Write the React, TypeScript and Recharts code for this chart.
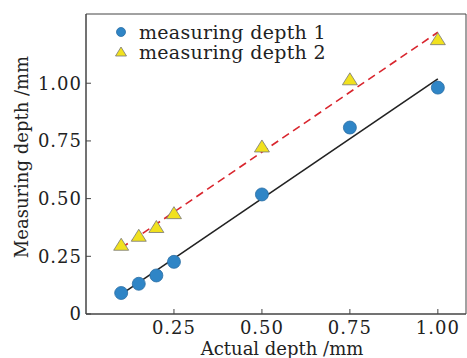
import { ComposedChart, Line, Scatter, XAxis, YAxis, ReferenceArea } from "recharts";

// actual depth (mm) and the two measured series
const actualDepth = [0.1, 0.15, 0.2, 0.25, 0.5, 0.75, 1.0];
const depth1 = [0.091, 0.131, 0.167, 0.226, 0.518, 0.808, 0.981];
const depth2 = [0.297, 0.336, 0.374, 0.434, 0.723, 1.014, 1.188];

// fitted lines, end points
const fitX = [0.1, 1.0];
const fit1 = [0.085, 1.019];
const fit2 = [0.286, 1.221];

const xTicks = [0.25, 0.5, 0.75, 1.0];
const yTicks = [0, 0.25, 0.5, 0.75, 1.0];

const font = "'DejaVu Serif', serif";
const blue = "#2f85c6";
const yellow = "#f1e11e";

const pts1 = actualDepth.map((x, i) => ({ x, y: depth1[i] }));
const pts2 = actualDepth.map((x, i) => ({ x, y: depth2[i] }));
const line1 = fitX.map((x, i) => ({ x, y: fit1[i] }));
const line2 = fitX.map((x, i) => ({ x, y: fit2[i] }));

function Dot(p: any) {
  return <circle cx={p.cx} cy={p.cy} r={6.5} fill={blue} stroke="#2a6da3" strokeWidth={0.8} />;
}

function Tri(p: any) {
  const { cx, cy } = p;
  const w = 7.5;
  const h = 12;
  return (
    <polygon
      points={`${cx},${cy - h * 0.6} ${cx + w},${cy + h * 0.4} ${cx - w},${cy + h * 0.4}`}
      fill={yellow}
      stroke="#777"
      strokeWidth={0.8}
    />
  );
}

const tickStyle = { fill: "#222", fontSize: 18, fontFamily: font, letterSpacing: 1 };

export default function App() {
  return (
    <div style={{ position: "fixed", left: 0, top: 0, width: 467, height: 358, background: "#fff" }}>
      <ComposedChart width={467} height={358} margin={{ top: 14, right: 1, bottom: 0, left: 0 }}>
        <XAxis
          dataKey="x"
          type="number"
          domain={[0, 1.08]}
          ticks={xTicks}
          tickFormatter={(v: number) => v.toFixed(2)}
          height={44}
          tickSize={-5}
          tickMargin={12}
          stroke="#444"
          tick={tickStyle}
          allowDataOverflow
          label={{ value: "Actual depth /mm", position: "insideBottom", offset: 3, dx: 6, style: { fill: "#222", fontSize: 18, fontFamily: font } }}
        />
        <YAxis
          dataKey="y"
          type="number"
          domain={[0, 1.3]}
          ticks={yTicks}
          tickFormatter={(v: number) => (v === 0 ? "0" : v.toFixed(2))}
          width={86}
          tickSize={-5}
          tickMargin={9}
          stroke="#444"
          tick={tickStyle}
          allowDataOverflow
          label={{ value: "Measuring depth /mm", angle: -90, position: "center", dx: -21, dy: -7, style: { fill: "#222", fontSize: 18, fontFamily: font } }}
        />
        <ReferenceArea x1={0} x2={1.08} y1={0} y2={1.3} fill="none" stroke="#444" strokeWidth={1} />
        <Scatter data={pts1} shape={Dot} isAnimationActive={false} />
        <Scatter data={pts2} shape={Tri} isAnimationActive={false} />
        <Line data={line1} dataKey="y" stroke="#222" strokeWidth={1.6} dot={false} isAnimationActive={false} />
        <Line data={line2} dataKey="y" stroke="#d9262e" strokeWidth={1.6} strokeDasharray="8 5" dot={false} isAnimationActive={false} />
      </ComposedChart>
      <div style={{ position: "absolute", left: 112, top: 22, fontFamily: font, fontSize: 19, letterSpacing: 0.3, color: "#222", lineHeight: "20px" }}>
        <div style={{ display: "flex", alignItems: "center" }}>
          <svg width={18} height={20}>
            <circle cx={9} cy={10} r={4.5} fill={blue} stroke="#2a6da3" strokeWidth={0.8} />
          </svg>
          <span style={{ marginLeft: 9 }}>measuring depth 1</span>
        </div>
        <div style={{ display: "flex", alignItems: "center" }}>
          <svg width={18} height={20}>
            <polygon points="9,5 14.5,14 3.5,14" fill={yellow} stroke="#777" strokeWidth={0.8} />
          </svg>
          <span style={{ marginLeft: 9 }}>measuring depth 2</span>
        </div>
      </div>
    </div>
  );
}
